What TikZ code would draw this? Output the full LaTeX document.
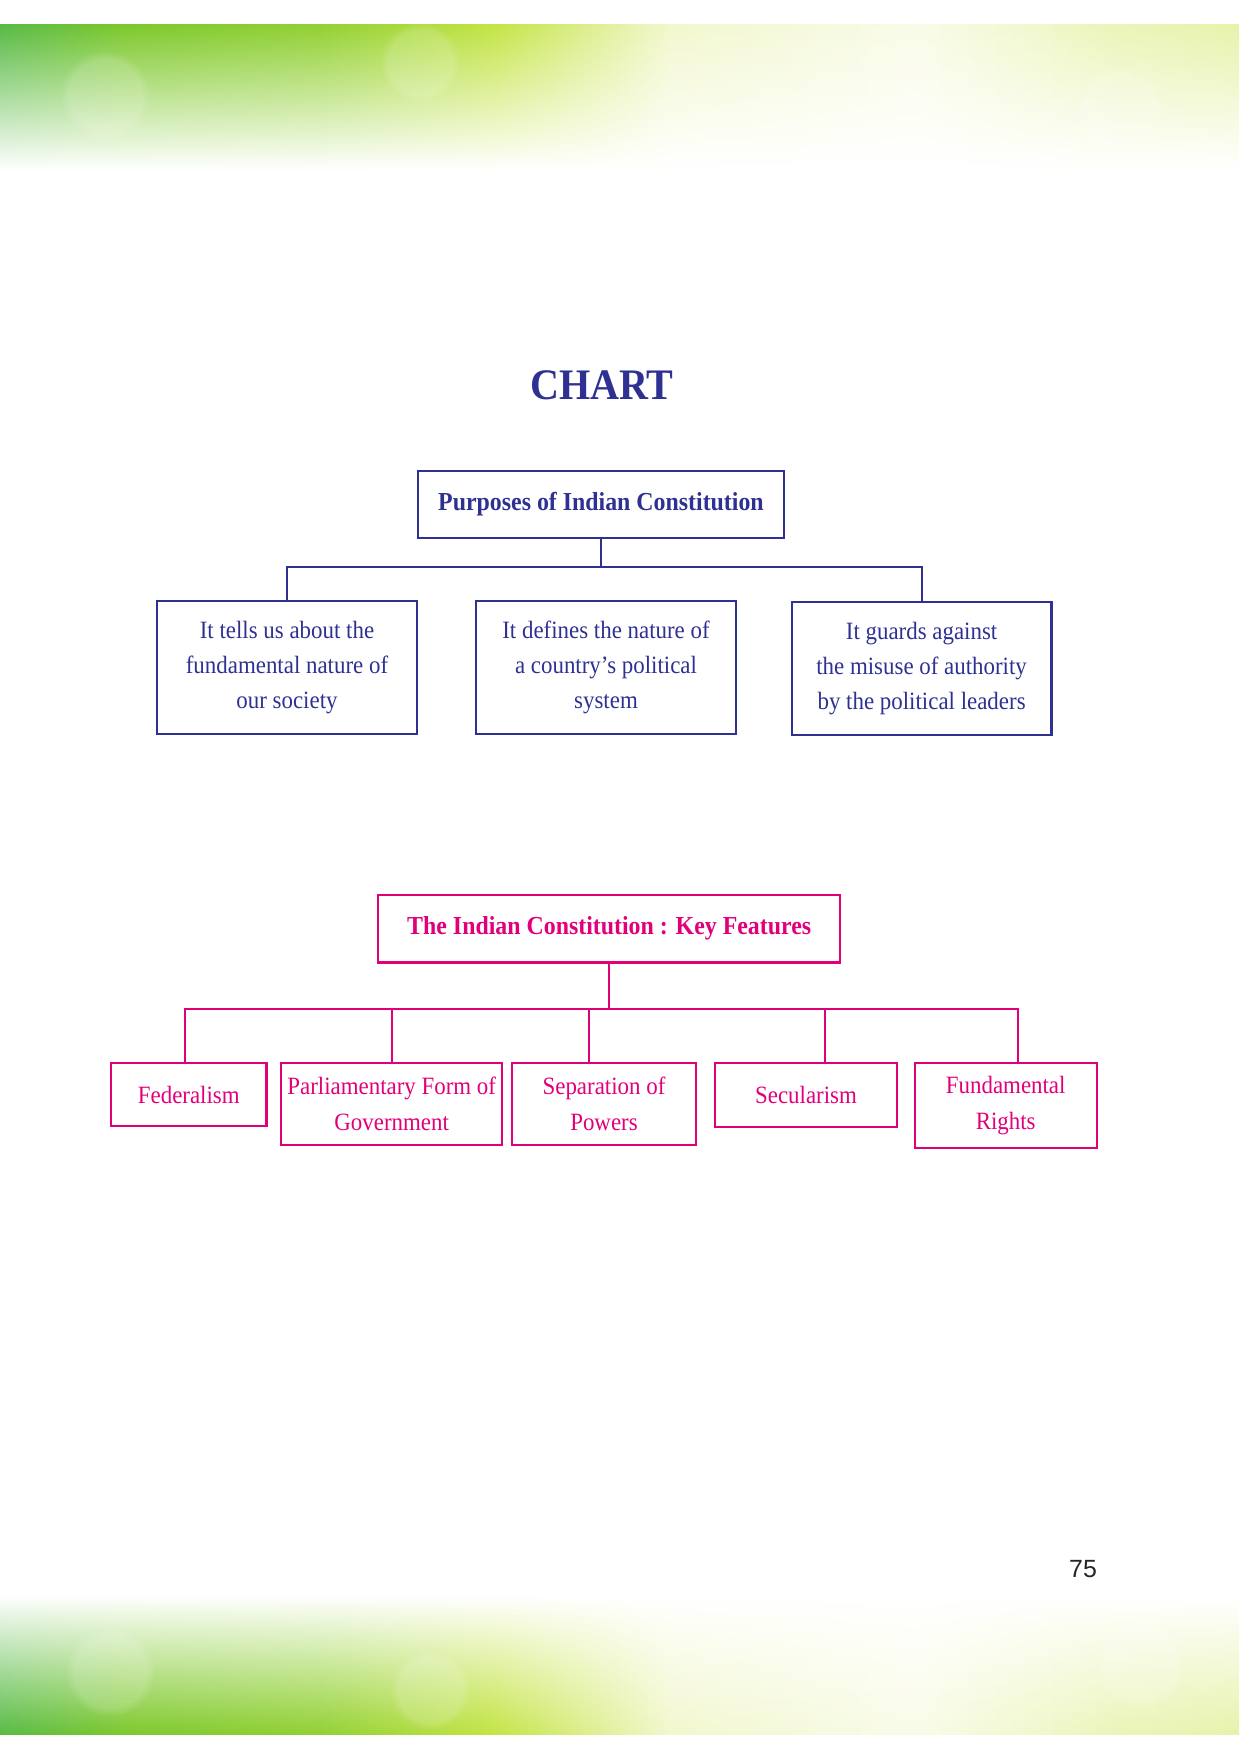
\documentclass[tikz,border=0pt]{standalone}
\usepackage{fontspec}
\setmainfont{Liberation Serif}[FakeStretch=0.92]
\newfontfamily\pagenofont{Liberation Sans}
\usepackage{tikz}
\usetikzlibrary{positioning,calc,fadings}

\definecolor{chartblue}{RGB}{46,49,146}
\definecolor{chartpink}{RGB}{226,0,122}
\definecolor{leafteal}{RGB}{88,186,70}
\definecolor{leafgreen}{RGB}{125,200,45}
\definecolor{limegreen}{RGB}{196,228,70}
\definecolor{palelime}{RGB}{242,247,205}

\pgfdeclarehorizontalshading{leafband}{100bp}{color(0bp)=(leafteal); color(25bp)=(leafteal);
  color(30bp)=(leafgreen); color(38bp)=(leafgreen!70!limegreen); color(45bp)=(limegreen);
  color(52bp)=(palelime); color(62bp)=(palelime!45!white); color(70bp)=(palelime!85!limegreen);
  color(75bp)=(palelime!75!limegreen); color(100bp)=(palelime!75!limegreen)}
\tikzfading[name=bandtop, top color=transparent!0, middle color=transparent!25, bottom color=transparent!100]
\tikzfading[name=bandbottom, top color=transparent!100, middle color=transparent!25, bottom color=transparent!0]

\begin{document}
\begin{tikzpicture}[
    x=0.016935cm, y=-0.016935cm,
    bluebox/.style={draw=chartblue, line width=1pt, text=chartblue,
                    align=center, inner sep=0pt,
                    font=\fontsize{12}{16.7}\selectfont},
    bluehead/.style={bluebox, font=\fontsize{12.5}{15}\selectfont\bfseries},
    childbox/.style={bluebox, minimum width=125.2pt, minimum height=63.8pt},
    pinkbox/.style={draw=chartpink, line width=1pt, text=chartpink,
                    align=center, inner sep=0pt,
                    font=\fontsize{12}{17.2}\selectfont},
    pinkhead/.style={pinkbox, font=\fontsize{12.5}{15}\selectfont\bfseries},
    blueline/.style={draw=chartblue, line width=1pt},
    pinkline/.style={draw=chartpink, line width=1pt},
    bokeh/.style={fill=white, opacity=0.16, path fading=circle with fuzzy edge 20 percent}
  ]
    \useasboundingbox (0,0) rectangle (1240,1755);
    % page bands
    \shade[shading=leafband, path fading=bandtop] (0,25) rectangle (1240,170);
    \fill[bokeh] (105,95) circle (45);
    \fill[bokeh] (420,62) circle (40);
    \fill[bokeh] (1120,110) circle (45);
    \shade[shading=leafband, path fading=bandbottom] (0,1595) rectangle (1240,1734);
    \fill[bokeh] (110,1672) circle (45);
    \fill[bokeh] (430,1690) circle (40);
    \fill[bokeh] (1140,1665) circle (45);

    \node[text=chartblue, font=\fontsize{21}{24}\selectfont\bfseries] (chart) at (602,385) {CHART};

    % purposes
    \node[bluehead, minimum width=176.3pt, minimum height=32.2pt] (purpose) at (601,504.5)
      {Purposes of Indian Constitution};
    \node[childbox] (tells) at (287,667.5) {It tells us about the\\fundamental nature of\\our society};
    \node[childbox] (defines) at (606,667.5) {It defines the nature of\\a country’s political\\system};
    \node[childbox] (guards) at (921.6,668.5) {It guards against\\the misuse of authority\\by the political leaders};
    \coordinate (pjoin) at ($(purpose.south)+(0,28)$);
    \draw[blueline] (purpose.south) -- (pjoin);
    \draw[blueline] (tells.north) |- (pjoin) -| (guards.north);

    % key features
    \node[pinkhead, minimum width=222.7pt, minimum height=32.6pt] (key) at (609.2,928.7)
      {The Indian Constitution : Key Features};
    \node[pinkbox, minimum width=74.9pt, minimum height=30.5pt] (fed) at (188.8,1094.8) {Federalism};
    \node[pinkbox, minimum width=106.6pt, minimum height=39.1pt] (parl) at (391.7,1104) {Parliamentary Form of\\Government};
    \node[pinkbox, minimum width=88.3pt, minimum height=39.1pt] (sep) at (604,1104) {Separation of\\Powers};
    \node[pinkbox, minimum width=87.7pt, minimum height=30.5pt] (sec) at (806,1095) {Secularism};
    \node[pinkbox, minimum width=87.6pt, minimum height=40.8pt] (fund) at (1005.7,1105.6) {Fundamental\\Rights};
    \coordinate (kjoin) at ($(key.south)+(0,45)$);
    \draw[pinkline] (key.south) -- (kjoin);
    \draw[pinkline] ($(fed.north)+(-4,0)$) |- (kjoin) -| ($(fund.north)+(12,0)$);
    \draw[pinkline] (parl.north) |- (kjoin);
    \draw[pinkline] ($(sep.north)+(-15,0)$) |- (kjoin);
    \draw[pinkline] ($(sec.north)+(19,0)$) |- (kjoin);

    \node[text=black!85, font=\pagenofont\fontsize{12}{14}\selectfont] (pageno) at (1083,1569) {75};
\end{tikzpicture}
\end{document}
